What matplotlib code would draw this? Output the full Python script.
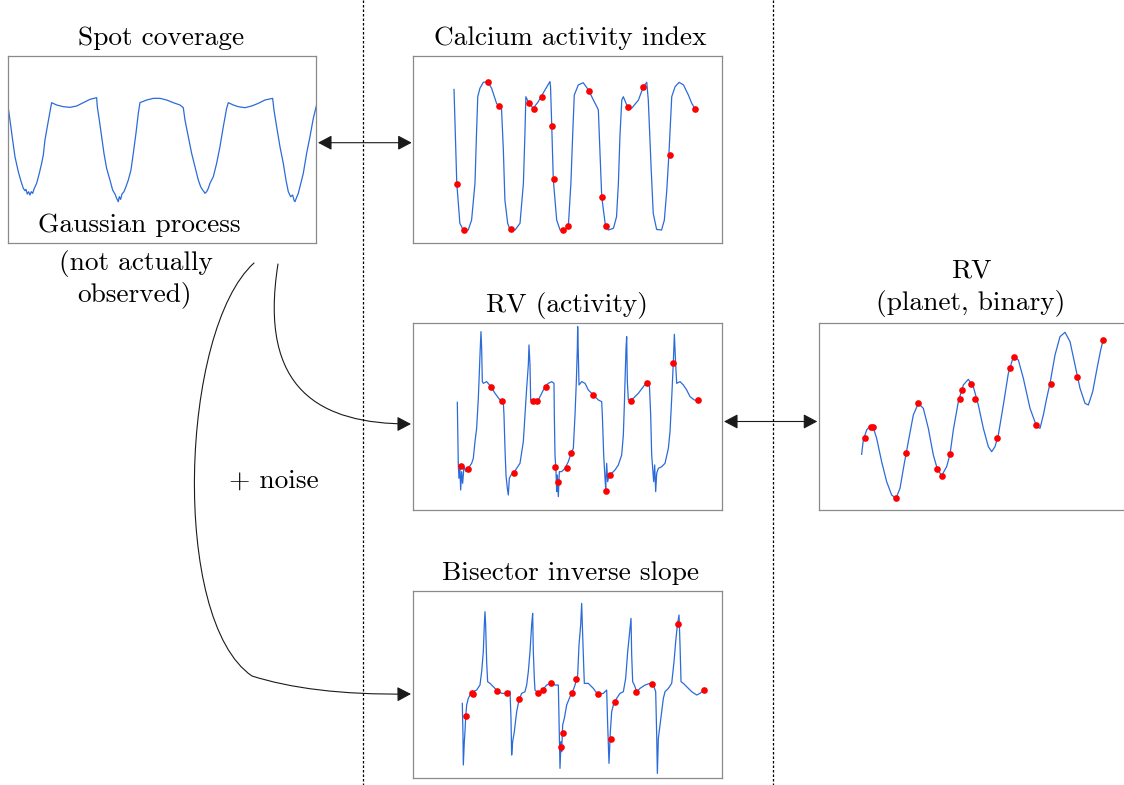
"""
Sketch: one latent GP (spot coverage) feeding the activity indicators
and the RV, plus a planet/binary RV signal.
"""
import matplotlib
matplotlib.use("Agg")
import matplotlib.pyplot as plt
from matplotlib.patches import FancyArrowPatch
from matplotlib.path import Path

W, H = 1124, 785

# spot coverage (latent GP), time in days, coverage in arbitrary units
spot_t = [0.0, 0.5, 1.3, 2.0, 3.0, 3.7, 4.5, 5.0, 5.3, 5.7, 6.1, 6.5, 6.9, 7.3,
          7.8, 8.5, 9.3, 10.0, 10.5, 11.0, 11.7, 12.5, 13.0, 14.5, 16.5, 18.5,
          20.5, 22.5, 24.5, 26.5, 26.7, 27.3, 28.0, 28.7, 29.5, 30.5, 31.3,
          32.0, 32.5, 33.0, 33.3, 33.7, 34.1, 34.7, 35.3, 36.0, 36.8, 37.5,
          38.3, 39.0, 39.5, 41.5, 43.5, 45.5, 47.5, 49.5, 51.5, 52.5, 53.0,
          54.0, 55.0, 56.0, 57.0, 57.7, 58.3, 58.7, 59.0, 59.5, 60.0, 60.5,
          61.5, 62.5, 63.5, 64.5, 65.5, 66.0, 67.5, 69.0, 71.0, 73.0, 75.0,
          77.0, 79.3, 79.7, 80.5, 81.5, 82.5, 83.3, 84.0, 84.7, 85.3, 85.7,
          86.0, 86.5, 87.0, 87.5, 88.5, 89.5, 90.5, 91.5, 92.4]
spot_y = [40.3, 36.8, 30.8, 25.8, 21.3, 18.8, 16.3, 15.6, 16.0, 14.6, 15.3, 14.3,
          15.3, 14.8, 16.3, 17.8, 20.8, 23.8, 26.3, 30.8, 34.8, 39.3, 42.0,
          41.3, 40.8, 40.6, 41.0, 42.0, 43.0, 43.5, 40.8, 36.8, 31.8, 26.8,
          22.3, 18.8, 15.8, 14.6, 13.3, 12.3, 13.8, 13.0, 14.6, 15.3, 16.8,
          18.8, 21.8, 26.8, 32.8, 38.8, 42.0, 42.8, 43.3, 43.3, 42.8, 42.0,
          41.3, 40.5, 36.8, 31.8, 26.8, 22.8, 18.8, 16.8, 15.8, 15.3, 14.8,
          15.3, 16.3, 17.8, 19.8, 23.8, 28.8, 34.8, 40.3, 42.0, 41.3, 40.8,
          40.5, 41.0, 41.8, 42.8, 43.3, 39.8, 34.8, 28.8, 23.8, 18.8, 15.3,
          13.8, 14.3, 12.8, 12.3, 13.6, 14.8, 16.8, 20.8, 26.8, 31.8, 37.3, 41.0]

# calcium activity index (normalised)
ca_t = [13.2, 14.1, 15.1, 16.2, 17.8, 18.9, 20.0, 20.5, 20.9, 21.6, 22.7, 24.1,
        25.4, 27.0, 28.6, 29.2, 29.7, 30.6, 31.4, 33.0, 34.6, 35.7, 36.2, 36.5,
        37.5, 38.9, 40.5, 42.7, 44.3, 44.5, 44.9, 45.4, 46.5, 47.6, 49.2, 50.3,
        51.1, 51.7, 52.2, 53.5, 55.1, 56.8, 58.4, 59.5, 60.0, 60.5, 61.1, 62.2,
        63.2, 64.9, 65.9, 66.5, 67.0, 67.6, 68.1, 69.2, 70.8, 73.0, 74.6, 75.7,
        76.2, 77.1, 77.8, 78.9, 80.5, 81.4, 82.2, 82.9, 83.8, 84.9, 86.2, 87.6,
        89.2, 90.3, 91.4]
ca_y = [0.821, 0.318, 0.104, 0.068, 0.068, 0.121, 0.318, 0.586, 0.782, 0.827,
        0.859, 0.863, 0.827, 0.746, 0.720, 0.496, 0.229, 0.104, 0.068, 0.068,
        0.104, 0.318, 0.586, 0.782, 0.746, 0.720, 0.755, 0.818, 0.863, 0.836,
        0.621, 0.336, 0.121, 0.068, 0.068, 0.095, 0.318, 0.586, 0.791, 0.845,
        0.857, 0.818, 0.764, 0.729, 0.711, 0.496, 0.246, 0.104, 0.068, 0.077,
        0.139, 0.318, 0.568, 0.764, 0.782, 0.738, 0.720, 0.764, 0.836, 0.859,
        0.764, 0.407, 0.157, 0.071, 0.068, 0.121, 0.282, 0.479, 0.782, 0.836,
        0.859, 0.845, 0.791, 0.746, 0.716]
ca_obs_t = [14.3, 16.4, 24.1, 27.7, 31.6, 37.6, 39.1, 41.7, 45.0, 45.7, 48.6,
            50.1, 57.0, 61.3, 62.6, 69.6, 74.5, 83.1, 91.4]
ca_obs_y = [0.314, 0.068, 0.859, 0.734, 0.071, 0.746, 0.718, 0.782, 0.627,
            0.341, 0.068, 0.088, 0.813, 0.245, 0.089, 0.729, 0.836, 0.471, 0.716]

# activity-induced RV (m/s)
rv_t = [13.2, 13.5, 13.7, 14.0, 14.2, 14.5, 14.8, 15.2, 15.8, 16.5, 17.5, 18.0,
        18.5, 19.0, 19.5, 19.7, 20.0, 20.3, 20.5, 20.7, 21.0, 22.0, 23.3, 24.5,
        26.0, 27.0, 27.2, 27.5, 27.8, 28.2, 28.5, 28.8, 29.3, 30.0, 31.0, 32.0,
        33.0, 33.5, 34.0, 34.5, 34.7, 35.0, 35.2, 36.0, 37.5, 38.5, 39.5, 40.5,
        41.5, 42.2, 42.3, 42.5, 42.8, 43.0, 43.2, 43.5, 43.8, 44.5, 45.5, 46.5,
        47.3, 48.0, 48.5, 48.9, 49.2, 49.3, 49.5, 49.7, 50.5, 51.5, 52.5, 54.0,
        55.5, 56.5, 56.7, 57.1, 57.5, 57.7, 58.0, 58.3, 58.7, 59.5, 60.5, 61.5,
        62.5, 63.0, 63.3, 63.5, 63.8, 64.0, 64.2, 64.5, 66.0, 67.5, 69.0, 70.0,
        70.8, 71.2, 71.5, 71.8, 72.1, 72.4, 72.7, 73.0, 73.5, 74.5, 75.5, 76.5,
        77.0, 77.5, 78.0, 78.3, 78.7, 79.0, 80.0, 81.0, 82.0, 83.0, 84.3, 85.5]
rv_y = [32.3, 13.5, 9.5, 12.5, 6.0, 11.5, 8.0, 13.0, 11.5, 12.5, 14.0, 15.5,
        20.5, 24.5, 33.5, 38.5, 46.5, 53.5, 48.5, 38.5, 38.0, 38.5, 37.0, 35.0,
        33.0, 32.3, 28.5, 18.5, 10.5, 6.5, 4.5, 9.5, 10.5, 11.0, 12.5, 14.0,
        20.5, 28.5, 36.5, 43.5, 49.5, 43.5, 33.0, 33.0, 33.0, 35.0, 37.0, 38.0,
        38.5, 38.0, 28.5, 16.5, 11.5, 5.5, 10.5, 4.0, 11.5, 11.5, 12.5, 14.5,
        17.0, 18.5, 28.5, 38.5, 48.5, 55.0, 46.5, 37.5, 38.5, 38.0, 36.0, 34.5,
        33.0, 32.5, 28.5, 16.5, 9.5, 6.5, 14.0, 8.5, 10.5, 11.0, 12.0, 13.5,
        16.5, 22.5, 31.5, 38.5, 48.5, 52.0, 38.5, 33.0, 33.5, 35.0, 37.0, 38.2,
        37.7, 28.5, 16.5, 12.5, 8.5, 13.5, 5.5, 11.0, 12.5, 13.0, 14.0, 18.5,
        23.5, 33.5, 44.5, 52.7, 43.5, 38.0, 38.5, 37.5, 36.0, 34.0, 33.0, 32.8]
rv_obs_t = [14.2, 16.3, 23.4, 26.6, 30.2, 35.8, 37.2, 39.7, 42.6, 43.3, 46.0,
            47.3, 53.8, 57.7, 58.9, 65.4, 70.0, 77.9, 85.5]
rv_obs_y = [13.3, 12.3, 36.8, 32.7, 11.0, 32.8, 32.8, 36.9, 13.0, 8.5, 12.7,
            17.1, 34.5, 5.8, 10.6, 32.7, 38.1, 44.2, 32.9]

# bisector inverse slope (m/s)
bis_t = [14.7, 14.9, 15.0, 15.3, 15.5, 15.7, 16.0, 16.5, 17.0, 18.0, 19.0, 20.0,
         20.5, 21.0, 21.3, 21.5, 21.7, 22.0, 22.3, 23.0, 24.0, 25.0, 26.5, 28.0,
         29.0, 29.3, 29.5, 29.8, 30.3, 31.0, 31.7, 32.5, 33.5, 34.0, 34.5, 35.0,
         35.5, 35.8, 36.0, 36.3, 36.5, 37.5, 38.5, 40.0, 41.2, 42.5, 43.5, 43.7,
         44.0, 44.3, 44.5, 44.8, 45.3, 46.0, 47.0, 47.8, 48.5, 49.3, 49.7, 50.2,
         50.5, 50.8, 51.1, 51.3, 52.5, 54.0, 55.3, 57.0, 58.0, 58.3, 58.7, 59.1,
         59.5, 60.0, 61.0, 62.0, 63.0, 63.7, 64.3, 64.8, 65.3, 65.5, 65.8, 66.3,
         67.0, 68.0, 69.5, 71.0, 72.0, 72.7, 73.0, 73.2, 73.5, 74.0, 74.5, 75.0,
         75.5, 76.5, 77.5, 78.2, 78.7, 79.2, 79.7, 80.0, 80.3, 81.0, 82.0, 83.5,
         85.0, 86.0, 87.1]
bis_y = [22.3, 12.8, 3.8, 10.8, 13.8, 17.8, 21.8, 23.8, 24.8, 25.8, 26.3, 27.8,
         31.8, 37.8, 45.8, 49.8, 45.8, 34.8, 28.8, 28.3, 27.3, 26.3, 25.3, 25.3,
         26.0, 17.8, 6.8, 10.8, 13.8, 19.8, 23.3, 25.3, 25.8, 27.8, 31.8, 37.8,
         45.8, 49.3, 37.8, 29.8, 26.3, 25.3, 26.0, 27.8, 28.4, 27.8, 27.8, 17.8,
         2.8, 10.8, 7.8, 15.8, 17.8, 21.8, 24.3, 25.8, 27.8, 30.8, 39.8, 45.8,
         52.3, 42.8, 33.8, 28.3, 28.3, 26.8, 25.0, 25.3, 26.3, 15.8, 4.3, 13.8,
         19.8, 21.8, 23.8, 25.3, 25.8, 29.8, 37.8, 42.8, 47.8, 36.8, 28.8, 27.8,
         25.8, 26.8, 27.8, 28.3, 27.8, 25.8, 12.8, 1.3, 11.8, 15.8, 19.8, 23.8,
         25.8, 26.8, 28.3, 34.8, 40.8, 45.8, 48.8, 39.8, 28.8, 28.3, 27.3, 25.8,
         24.8, 25.3, 26.3]
bis_obs_t = [15.7, 17.5, 17.9, 25.0, 28.2, 31.8, 37.5, 38.8, 41.2, 44.2, 44.9,
             47.5, 48.9, 55.3, 59.3, 60.4, 66.8, 71.5, 79.5, 87.1]
bis_obs_y = [18.5, 25.3, 25.0, 26.0, 25.5, 23.5, 25.3, 26.3, 28.4, 9.3, 13.5,
             25.5, 29.6, 25.0, 11.6, 22.8, 25.6, 28.0, 46.2, 26.3]

# planet / binary RV (m/s)
pl_t = [12.7, 13.2, 14.2, 15.2, 16.2, 17.2, 18.7, 20.2, 21.7, 23.0, 24.2, 25.5,
        26.7, 28.2, 29.7, 31.2, 32.7, 34.2, 35.4, 36.7, 38.2, 39.2, 40.2, 41.7,
        43.2, 44.7, 46.2, 47.7, 49.2, 50.7, 51.7, 52.7, 53.7, 55.2, 56.7, 58.2,
        59.7, 61.2, 63.2, 65.2, 66.2, 67.2, 68.2, 69.2, 70.7, 72.2, 73.7, 75.2,
        76.7, 78.2, 79.7, 80.7, 82.0, 83.4, 84.4, 85.2]
pl_y = [16.7, 21.0, 24.0, 25.2, 24.7, 21.5, 14.5, 8.5, 4.5, 3.5, 6.5, 14.0,
        20.5, 28.5, 32.0, 30.5, 24.5, 16.5, 12.3, 10.3, 13.0, 16.7, 24.0, 32.5,
        37.5, 39.2, 37.0, 31.5, 24.5, 19.0, 17.5, 19.0, 22.5, 31.5, 41.0, 46.0,
        45.0, 39.5, 30.5, 25.0, 24.5, 28.5, 33.5, 38.0, 46.5, 52.0, 53.3, 50.5,
        43.5, 36.5, 32.0, 31.5, 35.5, 43.0, 48.0, 51.3]
pl_obs_t = [13.8, 15.6, 16.0, 23.0, 26.0, 29.7, 35.4, 36.8, 39.2, 42.2, 42.8,
            45.5, 46.8, 53.3, 57.2, 58.4, 65.0, 69.4, 77.4, 85.0]
pl_obs_y = [21.7, 24.8, 24.8, 3.7, 17.2, 32.0, 12.4, 10.3, 16.7, 33.2, 36.0,
            37.9, 33.4, 21.7, 42.6, 45.8, 25.4, 37.8, 40.0, 50.9]

LINE = "#2b6bd9"
DOT = "#ff0000"
FRAME = "#8a8a8a"

plt.rcParams["font.family"] = ["cmr10", "DejaVu Serif"]
plt.rcParams["axes.formatter.use_mathtext"] = True

fig = plt.figure(figsize=(W / 100, H / 100), dpi=100)

# background layer in pixel units for separators and arrows
bg = fig.add_axes([0, 0, 1, 1], zorder=0)
bg.set_xlim(0, W)
bg.set_ylim(H, 0)
bg.axis("off")


def panel(x0, y0, x1, y1, xlim, ylim):
    ax = fig.add_axes([x0 / W, 1 - y1 / H, (x1 - x0) / W, (y1 - y0) / H], zorder=2)
    ax.set_xlim(*xlim)
    ax.set_ylim(*ylim)
    ax.set_xticks([])
    ax.set_yticks([])
    ax.patch.set_alpha(0)
    for s in ax.spines.values():
        s.set_color(FRAME)
        s.set_linewidth(0.9)
    return ax


ax_spot = panel(8.3, 56, 316.3, 242.7, (0, 92.4), (0, 56))
ax_ca = panel(413.3, 56, 721.7, 242.7, (0, 100), (0, 1))
ax_rv = panel(413.3, 323.3, 721.7, 510, (0, 92.5), (0, 56))
ax_bis = panel(413.3, 590.7, 721.7, 777.7, (0, 92.5), (0, 56.1))
ax_pl = panel(819.3, 323.3, 1127.7, 510, (0, 92.5), (0, 56))

ax_spot.plot(spot_t, spot_y, color=LINE, lw=0.9)
for ax, t, y, ot, oy in [(ax_ca, ca_t, ca_y, ca_obs_t, ca_obs_y),
                         (ax_rv, rv_t, rv_y, rv_obs_t, rv_obs_y),
                         (ax_bis, bis_t, bis_y, bis_obs_t, bis_obs_y),
                         (ax_pl, pl_t, pl_y, pl_obs_t, pl_obs_y)]:
    ax.plot(t, y, color=LINE, lw=0.9)
    ax.plot(ot, oy, "o", color=DOT, ms=4.8, mec="none")

# labels
fs = 19.7
txt = dict(fontsize=fs, ha="center", va="baseline", color="black", zorder=5)
bg.text(161, 45, "Spot coverage", **txt)
bg.text(570, 45, "Calcium activity index", **txt)
bg.text(139, 232, "Gaussian process", **txt)
bg.text(136, 270, "(not actually", **txt)
bg.text(134, 301, "observed)", **txt)
bg.text(567, 312, "RV (activity)", **txt)
bg.text(971, 277, "RV", **txt)
bg.text(971, 310, "(planet, binary)", **txt)
bg.text(274, 488, "+ noise", **txt)
bg.text(570, 580, "Bisector inverse slope", **txt)

# dotted separators
for x in [362.5, 773]:
    bg.plot([x, x], [0, H], color="black", lw=0.9, dashes=(2.0, 1.6))

# double-headed arrows between linked panels
head = "head_length=0.85,head_width=0.45"
for x0, x1, y in [(318, 411.7, 142.7), (724, 817.3, 421.5)]:
    bg.add_patch(FancyArrowPatch((x0, y), (x1, y), arrowstyle="<|-|>," + head,
                                 mutation_scale=10, color="#1a1a1a", lw=0.8,
                                 shrinkA=0, shrinkB=0))

# GP -> RV (activity)
p1 = Path([(278, 264), (258, 390), (320, 424), (411, 424)],
          [Path.MOVETO, Path.CURVE4, Path.CURVE4, Path.CURVE4])
# GP -> bisector, long way round
p2 = Path([(254, 263), (180, 330), (170, 620), (252, 676),
           (290, 688), (340, 695), (411, 694)],
          [Path.MOVETO, Path.CURVE4, Path.CURVE4, Path.CURVE4,
           Path.CURVE4, Path.CURVE4, Path.CURVE4])
for p in [p1, p2]:
    bg.add_patch(FancyArrowPatch(path=p, arrowstyle="-|>," + head,
                                 mutation_scale=10, color="#1a1a1a", lw=0.8))

fig.savefig("out.png", dpi=100)
